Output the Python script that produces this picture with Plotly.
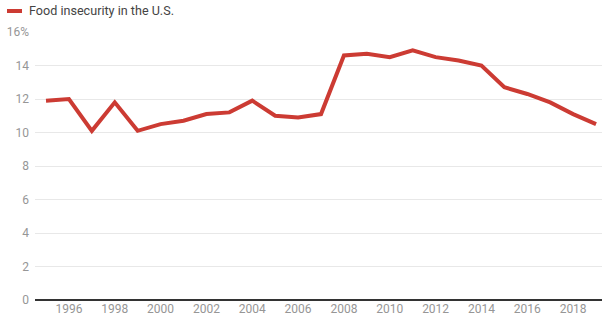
import plotly.graph_objects as go

years = list(range(1995, 2020))
food_insecurity = [11.9, 12.0, 10.1, 11.8, 10.1, 10.5, 10.7, 11.1, 11.2, 11.9, 11.0, 10.9, 11.1,
                   14.6, 14.7, 14.5, 14.9, 14.5, 14.3, 14.0, 12.7, 12.3, 11.8, 11.1, 10.5]
series_name = "Food insecurity in the U.S."
x_ticks = list(range(1996, 2019, 2))
y_ticks = [0, 2, 4, 6, 8, 10, 12, 14, 16]
y_tick_labels = ["0", "2", "4", "6", "8", "10", "12", "14", "16%"]

color = "#cc3b33"

W, H = 603, 322
ML, MR, MT, MB = 35, 1, 32, 22
pw = W - ML - MR
ph = H - MT - MB

def px_x(x):
    return (x - ML) / pw

def px_y(y):
    return 1 + (MT - y) / ph

fig = go.Figure()
fig.add_trace(go.Scatter(x=years, y=food_insecurity, mode="lines", name=series_name,
                         line=dict(color=color, width=4), showlegend=False))

fig.add_shape(type="line", xref="paper", yref="paper", x0=px_x(7), x1=px_x(22),
              y0=px_y(11), y1=px_y(11), line=dict(color=color, width=4))
fig.add_annotation(text=series_name, xref="paper", yref="paper", x=px_x(27), y=px_y(11),
                   xanchor="left", yanchor="middle", showarrow=False,
                   font=dict(size=12.6, color="#444444"))

fig.update_layout(
    width=W, height=H,
    margin=dict(l=ML, r=MR, t=MT, b=MB, autoexpand=False),
    paper_bgcolor="white", plot_bgcolor="white",
    font=dict(family="Roboto, Arial, sans-serif"),
    xaxis=dict(range=[1994.52, 2019.26], tickvals=x_ticks, showgrid=False, zeroline=False,
               showline=False, ticks="", automargin=False,
               tickfont=dict(size=12, color="#969696")),
    yaxis=dict(range=[0, 16], tickvals=y_ticks, ticktext=y_tick_labels, showgrid=True,
               gridcolor="#e8e8e8", gridwidth=1, zeroline=True, zerolinecolor="#333333",
               zerolinewidth=1.5, ticks="", ticklabelstandoff=5, automargin=False,
               tickfont=dict(size=12, color="#969696")),
)

fig.write_html("out.html", config={"displayModeBar": False},
               post_script="document.body.style.margin='0';")
